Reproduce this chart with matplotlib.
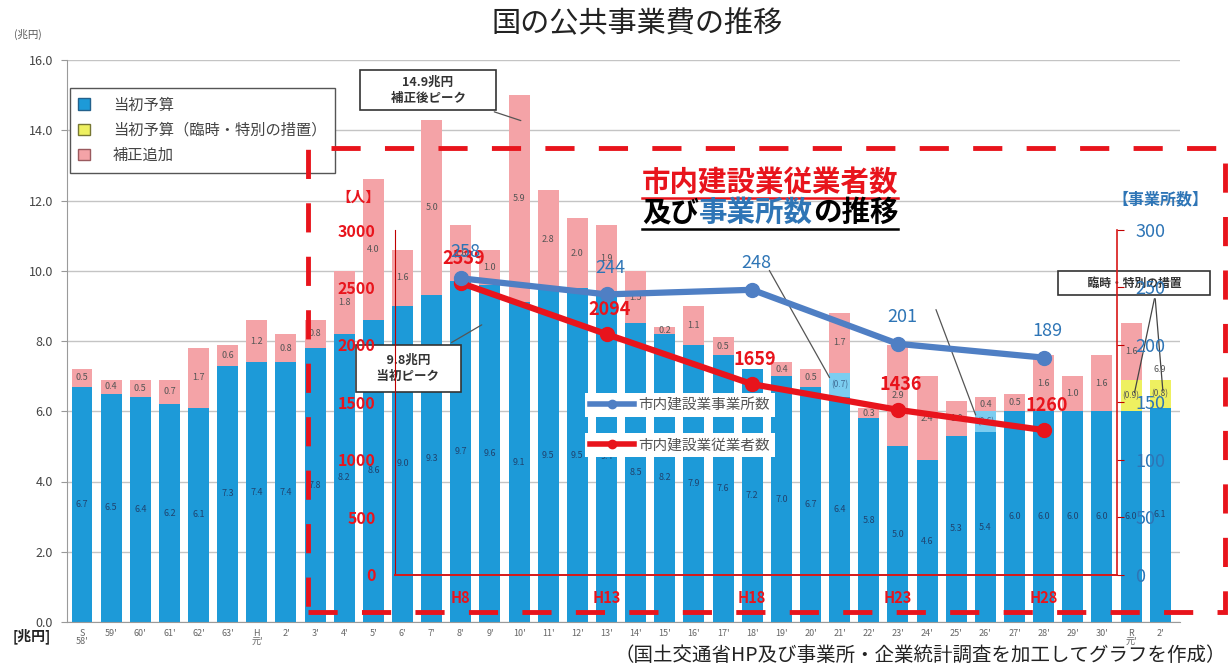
import matplotlib
matplotlib.use("Agg")
import matplotlib.pyplot as plt
import numpy as np
from matplotlib.patches import Patch, Rectangle
from matplotlib.lines import Line2D
from matplotlib.transforms import offset_copy

plt.rcParams['font.family'] = ['Noto Sans CJK JP', 'DejaVu Sans']

# fiscal years on the x axis
years = ["S\n58'", "59'", "60'", "61'", "62'", "63'", "H\n元'", "2'", "3'", "4'",
         "5'", "6'", "7'", "8'", "9'", "10'", "11'", "12'", "13'", "14'",
         "15'", "16'", "17'", "18'", "19'", "20'", "21'", "22'", "23'", "24'",
         "25'", "26'", "27'", "28'", "29'", "30'", "R\n元'", "2'"]

# 当初予算 (兆円)
initial = [6.7, 6.5, 6.4, 6.2, 6.1, 7.3, 7.4, 7.4, 7.8, 8.2,
           8.6, 9.0, 9.3, 9.7, 9.6, 9.1, 9.5, 9.5, 9.4, 8.5,
           8.2, 7.9, 7.6, 7.2, 7.0, 6.7, 6.4, 5.8, 5.0, 4.6,
           5.3, 5.4, 6.0, 6.0, 6.0, 6.0, 6.0, 6.1]
# 当初予算のうち括弧書きの分 (H21, H26)
special = [0, 0, 0, 0, 0, 0, 0, 0, 0, 0,
           0, 0, 0, 0, 0, 0, 0, 0, 0, 0,
           0, 0, 0, 0, 0, 0, 0.7, 0, 0, 0,
           0, 0.6, 0, 0, 0, 0, 0, 0]
# 当初予算（臨時・特別の措置）
temporary = [0, 0, 0, 0, 0, 0, 0, 0, 0, 0,
             0, 0, 0, 0, 0, 0, 0, 0, 0, 0,
             0, 0, 0, 0, 0, 0, 0, 0, 0, 0,
             0, 0, 0, 0, 0, 0, 0.9, 0.8]
# 補正追加
supplementary = [0.5, 0.4, 0.5, 0.7, 1.7, 0.6, 1.2, 0.8, 0.8, 1.8,
                 4.0, 1.6, 5.0, 1.6, 1.0, 5.9, 2.8, 2.0, 1.9, 1.5,
                 0.2, 1.1, 0.5, 0.0, 0.4, 0.5, 1.7, 0.3, 2.9, 2.4,
                 1.0, 0.4, 0.5, 1.6, 1.0, 1.6, 1.6, 0.0]

# 市内建設業 (事業所・企業統計調査)
survey_years = ["8'", "13'", "18'", "23'", "28'"]
survey_labels = ["H8", "H13", "H18", "H23", "H28"]
workers = [2539, 2094, 1659, 1436, 1260]
offices = [258, 244, 248, 201, 189]

BLUE = '#1d9ad8'
LIGHT_BLUE = '#7ccdf0'
YELLOW = '#eef060'
PINK = '#f4a3a7'
RED = '#e8141c'
LINE_BLUE = '#4f7fc4'
TXT_BLUE = '#2e75b6'
DARK_RED = '#c00000'

W, H = 1229, 666
fig = plt.figure(figsize=(W / 100, H / 100), dpi=100)
ax = fig.add_axes([67 / W, 1 - 622 / H, (1180 - 67) / W, (622 - 60) / H])


def fx(px):
    return px / W


def fy(py):
    return 1 - py / H


x = np.arange(len(years))
initial = np.array(initial)
special = np.array(special)
temporary = np.array(temporary)
supplementary = np.array(supplementary)
bw = 0.72

ax.bar(x, initial, bw, color=BLUE, zorder=2)
ax.bar(x, special, bw, bottom=initial, color=LIGHT_BLUE, zorder=2)
ax.bar(x, temporary, bw, bottom=initial + special, color=YELLOW, zorder=2)
top_base = initial + special + temporary
ax.bar(x, supplementary, bw, bottom=top_base, color=PINK, zorder=2)
totals = top_base + supplementary

# segment labels
for i in x:
    ax.text(i, initial[i] / 2, f'{initial[i]:.1f}', ha='center', va='center',
            fontsize=6.5, color='#1f4470', zorder=3)
    if special[i] > 0:
        ax.text(i, initial[i] + special[i] / 2, f'({special[i]:.1f})', ha='center',
                va='center', fontsize=6, color='#3f6a92', zorder=3)
    if temporary[i] > 0:
        ax.text(i, initial[i] + special[i] + temporary[i] / 2, f'({temporary[i]:.1f})',
                ha='center', va='center', fontsize=6, color='#555555', zorder=3)
    if supplementary[i] > 0:
        ax.text(i, top_base[i] + supplementary[i] / 2, f'{supplementary[i]:.1f}',
                ha='center', va='center', fontsize=6.5, color='#555555', zorder=3)
    elif temporary[i] > 0:
        ax.text(i, top_base[i] + 0.3, f'{top_base[i]:.1f}', ha='center', va='center',
                fontsize=6.5, color='#555555', zorder=3)

ax.set_xlim(-0.515, 37.68)
ax.set_ylim(0, 16)
ax.set_yticks(np.arange(0, 16.1, 2))
ax.set_yticklabels([f'{v:.1f}' for v in np.arange(0, 16.1, 2)], fontsize=9, color='#444444')
ax.set_xticks(x)
ax.set_xticklabels(years, fontsize=6.5, color='#666666', linespacing=0.9)
ax.tick_params(axis='x', length=0, pad=5)
ax.tick_params(axis='y', length=4, color='#999999', pad=6)
ax.grid(axis='y', color='#c4c4c4', lw=1)
ax.set_axisbelow(True)
for s in ['top', 'right']:
    ax.spines[s].set_visible(False)
ax.spines['left'].set_color('#9a9a9a')
ax.spines['bottom'].set_color('#9a9a9a')

# peak call-outs
SP = '\u3000'
i_peak = int(np.argmax(totals))
ax.annotate(f'{SP*2}14.9兆円{SP*2}\n{SP*2}補正後ピーク{SP*2}',
            xy=(i_peak + 0.15, totals[i_peak] - 0.75),
            xytext=(428, H - 90), textcoords='figure pixels', ha='center', va='center',
            fontsize=9, fontweight='bold', color='#333333', linespacing=1.35,
            bbox=dict(boxstyle='square,pad=0.45', fc='white', ec='#333333', lw=1.2),
            arrowprops=dict(arrowstyle='-', color='#555555', lw=0.9), zorder=4)
i_init = years.index("9'")
ax.annotate(f'{SP}9.8兆円{SP}\n{SP}当初ピーク{SP}', xy=(i_init - 0.2, initial[i_init] - 1.1),
            xytext=(408, H - 368), textcoords='figure pixels', ha='center', va='center',
            fontsize=9, fontweight='bold', color='#333333', linespacing=1.35,
            bbox=dict(boxstyle='square,pad=0.7', fc='white', ec='#333333', lw=1.2),
            arrowprops=dict(arrowstyle='-', color='#555555', lw=0.9), zorder=4)
ax.text(fx(1134), fy(283), f'{SP*2}臨時・特別の措置{SP*2}', transform=fig.transFigure,
        ha='center', va='center', fontsize=8.5, fontweight='bold', color='#333333',
        bbox=dict(boxstyle='square,pad=0.5', fc='white', ec='#333333', lw=1.2), zorder=4)
for i in np.nonzero(temporary)[0]:
    ax.annotate('', xy=(i + 0.1, initial[i] + temporary[i] / 2), xytext=(1155, H - 296),
                textcoords='figure pixels',
                arrowprops=dict(arrowstyle='-', color='#444444', lw=0.9), zorder=4)
# leader lines to the bracketed amounts
for i, start in zip(np.nonzero(special)[0], [(768, 268), (935, 307)]):
    ax.annotate('', xy=(i - 0.3, initial[i] + special[i] * 0.7), xytext=(start[0], H - start[1]),
                textcoords='figure pixels',
                arrowprops=dict(arrowstyle='-', color='#555555', lw=0.9), zorder=4)

# legend for the budget bars
fig.legend(handles=[Patch(fc=BLUE, ec='#23618c', label='当初予算'),
                    Patch(fc=YELLOW, ec='#777733', label='当初予算（臨時・特別の措置）'),
                    Patch(fc=PINK, ec='#9a5a5e', label='補正追加')],
           loc='upper left', bbox_to_anchor=(fx(70), fy(88)), fontsize=11,
           frameon=True, fancybox=False, edgecolor='#555555', framealpha=1,
           handlelength=0.75, handleheight=0.75, labelspacing=0.55, borderpad=0.55,
           handletextpad=1.5, borderaxespad=0, labelcolor='#444444')

# construction industry inset, sharing the bar positions
x0, x1, y0, y1 = 10.74, 35.52, 1.34, 11.16
ins = ax.inset_axes([x0, y0, x1 - x0, y1 - y0], transform=ax.transData)
ins.set_facecolor('none')
pos = [years.index(s) for s in survey_years]
ins.plot(pos, workers, color=RED, lw=4.5, marker='o', ms=10, zorder=3)
ins.set_xlim(x0, x1)
ins.set_ylim(0, 3000)
ins.set_yticks(np.arange(0, 3001, 500))
ins.set_xticks(pos)
ins.set_xticklabels(survey_labels)
ins.tick_params(axis='y', length=0, pad=14, labelsize=11.5, labelcolor=RED)
ins.tick_params(axis='x', length=0, pad=11, labelsize=10.5, labelcolor=RED)
for lab in ins.get_yticklabels() + ins.get_xticklabels():
    lab.set_fontweight('bold')
for s in ['top', 'right']:
    ins.spines[s].set_visible(False)
ins.spines['left'].set_color(DARK_RED)
ins.spines['bottom'].set_color('#d81818')
ins.spines['bottom'].set_linewidth(1.4)
for p, v in zip(pos, workers):
    ins.annotate(f'{v}', (p, v), xytext=(2, 18), textcoords='offset points', ha='center',
                 va='center', fontsize=13, fontweight='bold', color=RED, zorder=4)

tw = ins.twinx()
tw.set_facecolor('none')
tw.plot(pos, offices, color=LINE_BLUE, lw=4.5, marker='o', ms=10, zorder=3)
tw.set_ylim(0, 300)
tw.set_yticks(np.arange(0, 301, 50))
tw.tick_params(axis='y', length=5, color=DARK_RED, pad=8, labelsize=13, labelcolor=TXT_BLUE)
for s in ['top', 'left', 'bottom']:
    tw.spines[s].set_visible(False)
tw.spines['right'].set_color('#d81818')
tw.spines['right'].set_linewidth(1.2)
for p, v in zip(pos, offices):
    tw.annotate(f'{v}', (p, v), xytext=(3, 19), textcoords='offset points', ha='center',
                va='center', fontsize=13, color=TXT_BLUE, zorder=4)

# line legends, one white box per series
leg_kw = dict(loc='upper left', fontsize=10.5, frameon=True, fancybox=False,
              edgecolor='none', framealpha=1, handlelength=3, borderpad=0.35,
              handletextpad=0.3, borderaxespad=0, labelcolor='#555555')
leg1 = fig.legend(handles=[Line2D([], [], color=LINE_BLUE, lw=4, marker='o', ms=6,
                                  label='市内建設業事業所数')],
                  bbox_to_anchor=(fx(585), fy(393)), **leg_kw)
fig.legend(handles=[Line2D([], [], color=RED, lw=4, marker='o', ms=6,
                           label='市内建設業従業者数')],
           bbox_to_anchor=(fx(585), fy(433)), **leg_kw)
fig.add_artist(leg1)

# inset heading
fs = 20.5
fig.text(fx(642), fy(183), '市内建設業従業者数', fontsize=fs, fontweight='bold',
         color=RED, va='center', ha='left')
off = 0
for s, c in [('及び', 'black'), ('事業所数', TXT_BLUE), ('の推移', 'black')]:
    tr = offset_copy(fig.transFigure, fig=fig, x=off, y=0, units='points')
    fig.text(fx(642), fy(213), s, transform=tr, fontsize=fs, fontweight='bold',
             color=c, va='center', ha='left')
    off += fs * len(s)
ul = 642 + 9 * fs * 100 / 72
fig.add_artist(Line2D([fx(642), fx(ul)], [fy(198), fy(198)], color=RED, lw=1.8))
fig.add_artist(Line2D([fx(642), fx(ul)], [fy(229), fy(229)], color='black', lw=1.8))
fig.text(fx(358), fy(197), '【人】', fontsize=10.5, fontweight='bold', color=RED,
         ha='center', va='center')
fig.text(fx(1160), fy(199), '【事業所数】', fontsize=11.5, fontweight='bold',
         color=TXT_BLUE, ha='center', va='center')

# dashed frame around the inset
fig.add_artist(Rectangle((fx(308), fy(612)), fx(1225) - fx(308), fy(148) - fy(612),
                         transform=fig.transFigure, fill=False, ec=RED, lw=3.5,
                         ls=(0, (6, 5)), zorder=6))

# titles and notes
fig.text(fx(637), fy(24), '国の公共事業費の推移', fontsize=21, color='#222222',
         ha='center', va='center')
fig.text(fx(28), fy(34), '(兆円)', fontsize=7.5, color='#555555', ha='center', va='center')
fig.text(fx(32), fy(636), '[兆円]', fontsize=10, fontweight='bold', color='#222222',
         ha='center', va='center')
fig.text(fx(1226), fy(655), '（国土交通省HP及び事業所・企業統計調査を加工してグラフを作成）',
         fontsize=14, color='#222222', ha='right', va='center')

fig.savefig('out.png', dpi=100)
